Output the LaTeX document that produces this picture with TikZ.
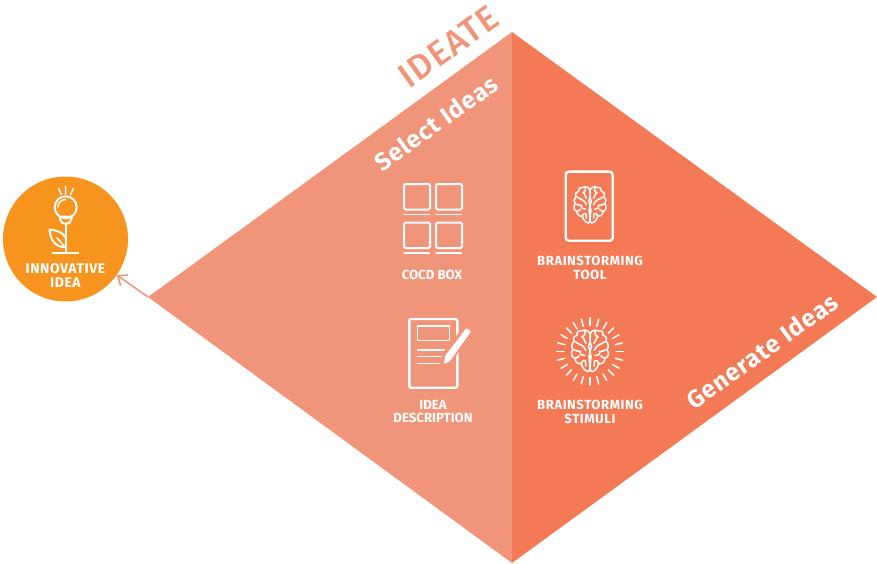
\documentclass[tikz,border=0pt]{standalone}
\usepackage{fontspec}
\setmainfont{Fira Sans}
\newfontfamily\widefont{Fira Sans}[LetterSpace=4]
\newfontfamily\titlefont{Fira Sans Medium}[LetterSpace=3]
\usetikzlibrary{arrows.meta}
\definecolor{selectcol}{HTML}{F0947A}
\definecolor{generatecol}{HTML}{F47955}
\definecolor{ideacol}{HTML}{F7941E}
\tikzset{
	icon/.style={draw=white,line width=2pt,line join=round,line cap=round},
	thin icon/.style={draw=white,line width=1.5pt,line join=round,line cap=round},
	caption/.style={text=white,align=center,font=\bfseries\fontsize{13.2}{13.6}\selectfont},
	wide caption/.style={caption,font=\widefont\bfseries\fontsize{13.2}{13.6}\selectfont},
	slanted/.style={text=white,rotate=35.5,font=\widefont\bfseries\fontsize{24.5}{25}\selectfont},
	brain/.pic={
		\foreach \s in {1,-1}{
			\begin{scope}[xscale=\s]
				\draw[thin icon] (0,-17) .. controls (-1,-20) and (-5,-22) .. (-8,-20)
					.. controls (-11,-21) and (-13,-19) .. (-12.5,-16)
					.. controls (-15,-16) and (-17,-13) .. (-15.5,-10)
					.. controls (-18,-8) and (-18.5,-4) .. (-16.5,-2)
					.. controls (-19,1) and (-18,6) .. (-14.5,6.5)
					.. controls (-15,10) and (-11,13) .. (-8.5,11.5)
					.. controls (-8,15) and (-5,19) .. (-2,19.5)
					.. controls (-1,19.5) and (0,18) .. (0,16);
				\draw[thin icon] (0,-17) -- (0,-9) -- (-1.5,-5) -- (0,0) -- (-1,5) -- (0,16);
				\draw[thin icon] (-5,-20) .. controls (-4,-17) and (-6,-15) .. (-8,-14) (-7,-14.5) .. controls (-6,-12) and (-5,-10) .. (-4,-8);
				\draw[thin icon] (-15.5,-10) .. controls (-13,-8) and (-11,-8) .. (-8,-6) .. controls (-6,-5) and (-5,-3) .. (-4,-1);
				\draw[thin icon] (-16.5,-2) .. controls (-14,-1) and (-12,0) .. (-9,0) (-10,0) .. controls (-10,3) and (-8,4) .. (-5,4);
				\draw[thin icon] (-14.5,6.5) .. controls (-12,6) and (-11,5) .. (-10.5,4) (-8.5,11.5) .. controls (-8,9) and (-6,8) .. (-4.5,9) -- (-4,14);
			\end{scope}
		}
	}
}
\begin{document}
\begin{tikzpicture}[x=1pt,y=-1pt]
	\useasboundingbox (0,0) rectangle (877,564);
	% diamond
	\coordinate (left) at (148,297);
	\coordinate (top) at (512,32);
	\coordinate (right) at (877,297);
	\coordinate (bottom) at (512,563);
	\fill[selectcol] (left) -- (top) -- (bottom) -- cycle;
	\fill[generatecol] (top) -- (right) -- (bottom) -- cycle;
	\node[slanted,text=selectcol,font=\titlefont\fontsize{35}{35}\selectfont] (ideate) at (448.5,46.5) {IDEATE};
	\node[slanted] (select) at (436,123) {Select Ideas};
	\node[slanted] (generate) at (762,351) {Generate Ideas};
	% result
	\node[circle,fill=ideacol,minimum size=125pt,inner sep=0pt] (idea) at (65.5,239) {};
	\draw[selectcol,line width=1.6pt,-{Straight Barb[length=8pt,width=13pt]}] (left) -- (idea);
	\node[wide caption,font=\widefont\bfseries\fontsize{14}{14.5}\selectfont] (idealabel) at (65.5,275.5) {INNOVATIVE\\IDEA};
	\draw[icon] (65.7,207.3) circle (11);
	\draw[thin icon] (58,207) arc[start angle=180,end angle=270,radius=7.5];
	\draw[icon] (59.5,216.5) -- (71.8,216.5) (60,217) -- (60,219) .. controls (60,222) and (63,224) .. (65.7,224) .. controls (68.5,224) and (71.5,222) .. (71.5,219) -- (71.5,217);
	\draw[icon] (65.7,224) -- (65.7,253) (52.7,253) -- (78.3,253);
	\draw[icon] (65.7,247) .. controls (56,248) and (50,240) .. (49.5,229.5) .. controls (56,230) and (63,232) .. (65.7,238);
	\draw[thin icon] (65,247) -- (57,238);
	\draw[thin icon] (58.5,188.5) -- (61.5,194.5) (65.7,186.5) -- (65.7,194) (73.5,188.5) -- (70.5,194.5);
	% cocd box
	\node[caption] (cocd) at (432,274.5) {COCD BOX};
	\foreach \x in {404,436}{
		\foreach \y in {184,222.5}{
			\draw[icon,rounded corners=1.5pt] (\x,\y) rectangle ++(26,25.5);
			\draw[thin icon] (\x,\y+30.5) -- ++(25.5,0);
		}
	}
	% brainstorming tool
	\node[wide caption] (tool) at (590,268) {BRAINSTORMING\\TOOL};
	\draw[icon,line width=2.4pt,rounded corners=3pt] (565.7,171.7) rectangle (612.7,240.7);
	\pic[scale=0.9] at (590,205.5) {brain};
	% idea description
	\node[caption] (description) at (433,411.5) {IDEA\\DESCRIPTION};
	\draw[icon,line width=2.4pt,rounded corners=2pt] (409.3,319) rectangle (457.3,387.7);
	\draw[thin icon] (417.7,326) rectangle (449.3,340.7);
	\draw[thin icon] (417.7,350) -- (446.7,350) (417.7,356.7) -- (443,356.7) (417.7,363.3) -- (441,363.3);
	\fill[selectcol] (465,325) -- (473,331) -- (449,366) -- (440,364) -- (443,352) -- cycle;
	\fill[white,rounded corners=1pt] (466.5,328) -- (471,331.5) -- (450,361) -- (444,364) -- (445,356) -- cycle;
	% brainstorming stimuli
	\node[wide caption] (stimuli) at (590,412) {BRAINSTORMING\\STIMULI};
	\pic[scale=1.03] at (590,351.5) {brain};
	\begin{scope}[shift={(590,351.5)}]
		\foreach \a in {0,15,...,345}{
			\draw[thin icon] (\a:26) -- (\a:33.5);
		}
	\end{scope}
\end{tikzpicture}
\end{document}
